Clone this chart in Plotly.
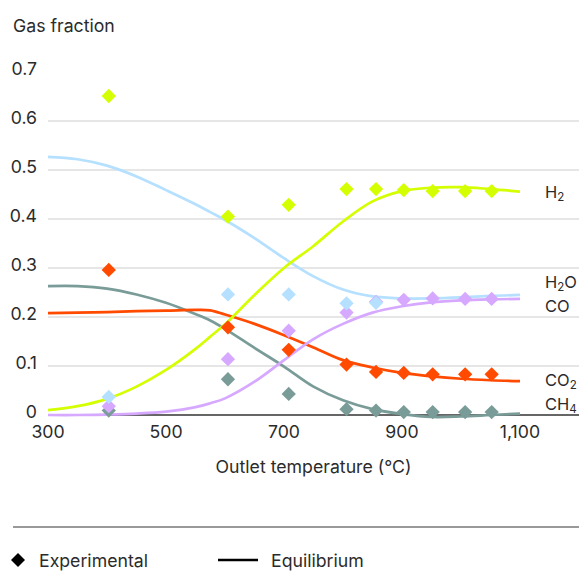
import plotly.graph_objects as go

# ---- data ----
exp_temp = [403, 605, 708, 806, 856, 903, 952, 1007, 1052]
h2_exp = [0.651, 0.405, 0.429, 0.461, 0.461, 0.459, 0.457, 0.457, 0.457]
h2o_exp = [0.037, 0.246, 0.246, 0.228, 0.229, None, None, None, None]
co_exp = [0.018, 0.114, 0.172, 0.209, 0.231, 0.235, 0.238, 0.237, 0.237]
co2_exp = [0.296, 0.179, 0.133, 0.103, 0.088, 0.086, 0.083, 0.083, 0.083]
ch4_exp = [0.009, 0.073, 0.043, 0.012, 0.009, 0.006, 0.006, 0.006, 0.006]

eq_temp = [300, 350, 400, 450, 500, 550, 575, 600, 650, 700, 750, 800, 850, 900, 950, 1000, 1050, 1100]
h2_eq = [0.010, 0.018, 0.033, 0.058, 0.092, 0.135, 0.160, 0.185, 0.245, 0.300, 0.345, 0.395, 0.436, 0.457, 0.464, 0.465, 0.461, 0.456]
h2o_eq = [0.527, 0.522, 0.509, 0.487, 0.459, 0.430, 0.414, 0.398, 0.361, 0.320, 0.283, 0.256, 0.242, 0.238, 0.238, 0.240, 0.243, 0.245]
co_eq = [0.0, 0.0, 0.001, 0.003, 0.007, 0.016, 0.024, 0.034, 0.068, 0.112, 0.155, 0.186, 0.209, 0.222, 0.230, 0.234, 0.236, 0.237]
co2_eq = [0.208, 0.209, 0.210, 0.212, 0.213, 0.2145, 0.2135, 0.205, 0.186, 0.163, 0.138, 0.112, 0.097, 0.086, 0.079, 0.074, 0.071, 0.069]
ch4_eq = [0.263, 0.263, 0.258, 0.246, 0.229, 0.206, 0.193, 0.176, 0.137, 0.099, 0.058, 0.030, 0.012, 0.002, -0.004, -0.003, 0.000, 0.003]

series_names = ["H<sub>2</sub>", "H<sub>2</sub>O", "CO", "CO<sub>2</sub>", "CH<sub>4</sub>"]
label_y = [0.4537, 0.269, 0.222, 0.070, 0.020]
x_ticks = [300, 500, 700, 900, 1100]
y_ticks = [0, 0.1, 0.2, 0.3, 0.4, 0.5, 0.6, 0.7]
y_tick_text = ["0", "0.1", "0.2", "0.3", "0.4", "0.5", "0.6", "0.7"]

colors = {
    "H2": "#d4ff00",
    "H2O": "#b5e0ff",
    "CO": "#d6a8ff",
    "CO2": "#ff4a00",
    "CH4": "#7a9c98",
}

FONT = "Inter, Roboto, sans-serif"
TXT = "#2b2b2b"
FS = 17.7

fig = go.Figure()

# equilibrium lines
for key, ys in [("CH4", ch4_eq), ("CO2", co2_eq), ("CO", co_eq), ("H2O", h2o_eq), ("H2", h2_eq)]:
    fig.add_trace(go.Scatter(x=eq_temp, y=ys, mode="lines",
                             line=dict(color=colors[key], width=2.7, shape="spline", smoothing=1.0),
                             showlegend=False, hoverinfo="skip"))

# experimental markers
for key, ys in [("CH4", ch4_exp), ("CO2", co2_exp), ("CO", co_exp), ("H2O", h2o_exp), ("H2", h2_exp)]:
    fig.add_trace(go.Scatter(x=exp_temp, y=ys, mode="markers",
                             marker=dict(symbol="diamond", size=11, color=colors[key], line=dict(width=0)),
                             showlegend=False))

annotations = []
for name, yv in zip(series_names, label_y):
    annotations.append(dict(x=1140, y=yv, xref="x", yref="y", text=name, showarrow=False,
                            xanchor="left", yanchor="middle", borderpad=0,
                            font=dict(family=FONT, size=16.5, color=TXT)))

annotations.append(dict(x=0, y=1, xref="paper", yref="paper", text="Gas fraction", showarrow=False,
                        xanchor="left", yanchor="middle", xshift=-37, yshift=47,
                        font=dict(family=FONT, size=FS, color=TXT)))

# custom legend text
annotations.append(dict(x=0, y=0, xref="paper", yref="paper", text="Experimental", showarrow=False,
                        xanchor="left", yanchor="middle", xshift=-11, yshift=-139,
                        font=dict(family=FONT, size=FS, color=TXT)))
annotations.append(dict(x=0, y=0, xref="paper", yref="paper", text="Equilibrium", showarrow=False,
                        xanchor="left", yanchor="middle", xshift=221, yshift=-139,
                        font=dict(family=FONT, size=FS, color=TXT)))

shapes = [
    # separator line
    dict(type="line", xref="paper", yref="paper", xsizemode="pixel", ysizemode="pixel",
         xanchor=0, yanchor=0, x0=-35, x1=531, y0=-106, y1=-106,
         line=dict(color="#777777", width=1.5)),
    # legend diamond
    dict(type="path", xref="paper", yref="paper", xsizemode="pixel", ysizemode="pixel",
         xanchor=0, yanchor=0, path="M -37,-139 L -30,-132 L -23,-139 L -30,-146 Z",
         fillcolor="#000000", line=dict(width=0)),
    # legend line
    dict(type="line", xref="paper", yref="paper", xsizemode="pixel", ysizemode="pixel",
         xanchor=0, yanchor=0, x0=170, x1=210, y0=-139, y1=-139,
         line=dict(color="#000000", width=2.5)),
]

fig.update_layout(
    width=579, height=586,
    margin=dict(l=48, r=0, t=72, b=165, pad=0),
    paper_bgcolor="white", plot_bgcolor="white",
    font=dict(family=FONT, size=FS, color=TXT),
    showlegend=False,
    annotations=annotations,
    shapes=shapes,
    xaxis=dict(range=[300, 1200], tickvals=x_ticks, tickformat=",", showgrid=False,
               zeroline=False, showline=False, ticks="", ticklabelstandoff=-2,
               tickfont=dict(family=FONT, size=FS, color=TXT),
               title=dict(text="Outlet temperature (°C)", standoff=19,
                          font=dict(family=FONT, size=FS, color=TXT))),
    yaxis=dict(range=[-0.0122, 0.7], tickvals=y_ticks, ticktext=y_tick_text,
               showgrid=True, gridcolor="#e6e6e6", gridwidth=1.5,
               zeroline=True, zerolinecolor="#666666", zerolinewidth=1.5,
               showline=False, ticks="", ticklabelstandoff=10, ticklabelshift=-3,
               tickfont=dict(family=FONT, size=FS, color=TXT)),
)

fig.write_html("out.html")
